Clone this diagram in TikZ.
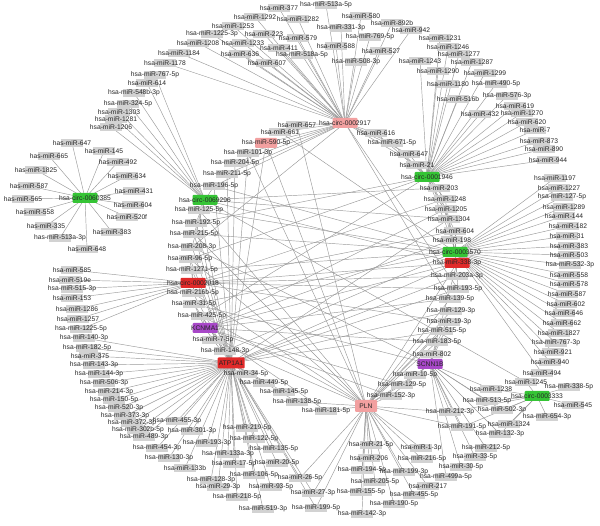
\documentclass[tikz,border=0pt]{standalone}
\usepackage{fontspec}
\setmainfont{Liberation Sans}
\usetikzlibrary{backgrounds}
\definecolor{circgreen}{HTML}{35C435}
\definecolor{circred}{HTML}{E02A2A}
\definecolor{circpink}{HTML}{F2A0A0}
\definecolor{genepurple}{HTML}{A848C8}

\begin{document}
\begin{tikzpicture}[
    x=1pt, y=-1pt,
    txt/.style={font=\fontsize{6.7}{7}\selectfont, text=black!85, inner sep=0pt},
    mir/.style={fill=gray!35, minimum width=22pt, minimum height=8pt, inner sep=0pt,
                label={[txt]center:#1}},
    hub/.style={fill=#1, rounded corners=1pt, minimum width=25pt, minimum height=10pt, inner sep=0pt},
    edge/.style={draw=gray!80, line width=0.45pt}
]
\useasboundingbox (0,0) rectangle (600,526);

% hubs
\node[hub=circpink, label={[txt]center:hsa-circ-0002917}] (c2917) at (345,123) {};
\node[hub=circgreen, label={[txt]center:hsa-circ-0001946}] (c1946) at (427,177) {};
\node[hub=circgreen, label={[txt]center:hsa-circ-0060385}] (c0385) at (85,198) {};
\node[hub=circgreen, label={[txt]center:hsa-circ-0069296}] (c9296) at (205,200) {};
\node[hub=circred, label={[txt]center:hsa-circ-0002018}] (c2018) at (193,283) {};
\node[hub=genepurple, label={[txt]center:KCNMA1}] (kcnma) at (205,328) {};
\node[hub=circred, minimum width=27pt, minimum height=11pt, label={[txt]center:ATP1A1}] (atp) at (231,363) {};
\node[hub=circpink, minimum width=22pt, minimum height=12pt, label={[txt]center:PLN}] (pln) at (366,406) {};
\node[hub=genepurple, label={[txt]center:SCNN1B}] (scn) at (430,364) {};
\node[hub=circgreen, label={[txt]center:hsa-circ-0003333}] (c3333) at (537,396) {};
\node[hub=circgreen, label={[txt]center:hsa-circ-0003570}] (c3570) at (455,252) {};
\node[hub=circred, label={[txt]center:hsa-miR-338-3p}] (m338) at (457,263) {};
\node[hub=circpink, minimum width=22pt, label={[txt]center:hsa-miR-590-5p}] (m590) at (266,143) {};

% upper arc
\node[mir=hsa-miR-1178] (m1178) at (165,63) {};
\node[mir=hsa-miR-1184] (m1184) at (179,53) {};
\node[mir=hsa-miR-1208] (m1208) at (198,43) {};
\node[mir=hsa-miR-1225-3p] (m1225t) at (212,34) {};
\node[mir=hsa-miR-1253] (m1253) at (233,26) {};
\node[mir=hsa-miR-1292] (m1292) at (255,17) {};
\node[mir=hsa-miR-377] (m377) at (279,8) {};
\node[mir=hsa-miR-1282] (m1282) at (298,19) {};
\node[mir=hsa-miR-223] (m223) at (264,34) {};
\node[mir=hsa-miR-1233] (m1233) at (243,43) {};
\node[mir=hsa-miR-411] (m411) at (279,48) {};
\node[mir=hsa-miR-636] (m636) at (240,54) {};
\node[mir=hsa-miR-607] (m607) at (267,63) {};
\node[mir=hsa-miR-579] (m579) at (298,38) {};
\node[mir=hsa-miR-518a-5p] (m518a) at (302,55) {};
\node[mir=hsa-miR-513a-5p] (m513a) at (326,5) {};
\node[mir=hsa-miR-331-3p] (m331) at (341,28) {};
\node[mir=hsa-miR-580] (m580) at (361,16) {};
\node[mir=hsa-miR-892b] (m892b) at (392,23) {};
\node[mir=hsa-miR-769-5p] (m769) at (370,37) {};
\node[mir=hsa-miR-588] (m588) at (336,46) {};
\node[mir=hsa-miR-942] (m942) at (411,30) {};
\node[mir=hsa-miR-527] (m527) at (381,51) {};
\node[mir=hsa-miR-508-3p] (m508) at (356,62) {};
\node[mir=hsa-miR-657] (m657) at (297,125) {};
\node[mir=hsa-miR-661] (m661) at (280,132) {};
\node[mir=hsa-miR-101-3p] (m101) at (248,153) {};
\node[mir=hsa-miR-204-5p] (m204) at (235,163) {};
\node[mir=hsa-miR-211-5p] (m211) at (227,174) {};
\node[mir=hsa-miR-616] (m616) at (376,133) {};
\node[mir=hsa-miR-671-5p] (m671) at (392,143) {};
\node[mir=hsa-miR-647] (m647) at (409,154) {};
\node[mir=hsa-miR-21] (m21) at (417,165) {};

% left arc
\node[mir=hsa-miR-767-5p] (m767f) at (155,75) {};
\node[mir=hsa-miR-614] (m614) at (147,83) {};
\node[mir=hsa-miR-548b-3p] (m548b) at (134,93) {};
\node[mir=hsa-miR-324-5p] (m324) at (128,104) {};
\node[mir=hsa-miR-1303] (m1303) at (119,112) {};
\node[mir=hsa-miR-1281] (m1281) at (116,119) {};
\node[mir=hsa-miR-1206] (m1206) at (111,127) {};

% left star
\node[mir=has-miR-647] (a647) at (72,143) {};
\node[mir=has-miR-145] (a145) at (104,151) {};
\node[mir=has-miR-665] (a665) at (49,156) {};
\node[mir=has-miR-492] (a492) at (118,162) {};
\node[mir=has-miR-1825] (a1825) at (36,170) {};
\node[mir=has-miR-634] (a634) at (127,176) {};
\node[mir=has-miR-587] (a587) at (29,186) {};
\node[mir=has-miR-431] (a431) at (134,191) {};
\node[mir=has-miR-565] (a565) at (23,199) {};
\node[mir=has-miR-604] (a604) at (133,205) {};
\node[mir=has-miR-558] (a558) at (35,212) {};
\node[mir=has-miR-520f] (a520f) at (127,217) {};
\node[mir=has-miR-335] (a335) at (46,226) {};
\node[mir=has-miR-383] (a383) at (112,232) {};
\node[mir=has-miR-513a-3p] (a513a) at (60,238) {};
\node[mir=has-miR-648] (a648) at (87,249) {};

% left column
\node[mir=hsa-miR-196-5p] (m196) at (214,186) {};
\node[mir=hsa-miR-125-5p] (m125) at (199,210) {};
\node[mir=hsa-miR-192-5p] (m192) at (196,223) {};
\node[mir=hsa-miR-215-5p] (m215) at (194,234) {};
\node[mir=hsa-miR-208-3p] (m208) at (192,247) {};
\node[mir=hsa-miR-96-5p] (m96) at (190,259) {};
\node[mir=hsa-miR-1271-5p] (m1271) at (192,270) {};
\node[mir=hsa-miR-216b-5p] (m216b) at (193,293) {};
\node[mir=hsa-miR-31-5p] (m31f) at (194,304) {};
\node[mir=hsa-miR-425-5p] (m425) at (202,316) {};
\node[mir=hsa-miR-7-5p] (m7f) at (213,340) {};
\node[mir=hsa-miR-148-3p] (m148) at (225,351) {};

% left fan of the red circ
\node[mir=hsa-miR-585] (m585) at (72,270) {};
\node[mir=hsa-miR-519e] (m519e) at (70,280) {};
\node[mir=hsa-miR-515-3p] (m515t) at (72,289) {};
\node[mir=hsa-miR-153] (m153) at (72,298) {};
\node[mir=hsa-miR-1286] (m1286) at (77,309) {};
\node[mir=hsa-miR-1257] (m1257) at (78,319) {};
\node[mir=hsa-miR-1225-5p] (m1225f) at (81,329) {};
\node[mir=hsa-miR-140-3p] (m140) at (84,338) {};
\node[mir=hsa-miR-182-5p] (m182f) at (87,348) {};

% ATP1A1 fan
\node[mir=hsa-miR-375] (m375) at (90,356) {};
\node[mir=hsa-miR-143-3p] (m143) at (94,365) {};
\node[mir=hsa-miR-144-3p] (m144t) at (99,374) {};
\node[mir=hsa-miR-506-3p] (m506) at (104,383) {};
\node[mir=hsa-miR-214-3p] (m214) at (109,392) {};
\node[mir=hsa-miR-150-5p] (m150) at (114,400) {};
\node[mir=hsa-miR-520-3p] (m520) at (119,408) {};
\node[mir=hsa-miR-373-3p] (m373) at (125,416) {};
\node[mir=hsa-miR-372-3p] (m372) at (132,423) {};
\node[mir=hsa-miR-302b-5p] (m302) at (138,430) {};
\node[mir=hsa-miR-489-3p] (m489) at (144,437) {};
\node[mir=hsa-miR-454-3p] (m454) at (157,448) {};
\node[mir=hsa-miR-130-3p] (m130) at (169,458) {};
\node[mir=hsa-miR-455-3p] (m455t) at (177,421) {};
\node[mir=hsa-miR-301-3p] (m301) at (192,431) {};
\node[mir=hsa-miR-133b] (m133b) at (185,468) {};
\node[mir=hsa-miR-193-3p] (m193t) at (207,443) {};
\node[mir=hsa-miR-128-3p] (m128) at (211,480) {};
\node[mir=hsa-miR-29-3p] (m29) at (218,487) {};
\node[mir=hsa-miR-218-5p] (m218) at (237,497) {};
\node[mir=hsa-miR-219-5p] (m219) at (247,428) {};
\node[mir=hsa-miR-122-5p] (m122) at (254,439) {};
\node[mir=hsa-miR-133a-3p] (m133a) at (228,454) {};
\node[mir=hsa-miR-17-5p] (m17) at (234,464) {};
\node[mir=hsa-miR-135-5p] (m135) at (274,449) {};
\node[mir=hsa-miR-20-5p] (m20) at (277,463) {};
\node[mir=hsa-miR-106-5p] (m106) at (254,475) {};
\node[mir=hsa-miR-93-5p] (m93) at (271,487) {};
\node[mir=hsa-miR-519-3p] (m519t) at (263,509) {};
\node[mir=hsa-miR-26-5p] (m26) at (300,478) {};
\node[mir=hsa-miR-27-3p] (m27) at (313,493) {};
\node[mir=hsa-miR-199-5p] (m199f) at (316,508) {};
\node[mir=hsa-miR-34-5p] (m34) at (246,374) {};
\node[mir=hsa-miR-449-5p] (m449) at (264,383) {};
\node[mir=hsa-miR-145-5p] (m145) at (284,392) {};
\node[mir=hsa-miR-138-5p] (m138) at (297,402) {};
\node[mir=hsa-miR-181-5p] (m181) at (326,411) {};

% PLN fan
\node[mir=hsa-miR-21-5p] (m21f) at (371,445) {};
\node[mir=hsa-miR-206] (m206) at (369,458) {};
\node[mir=hsa-miR-194-5p] (m194) at (362,470) {};
\node[mir=hsa-miR-205-5p] (m205) at (375,482) {};
\node[mir=hsa-miR-155-5p] (m155) at (361,492) {};
\node[mir=hsa-miR-142-3p] (m142) at (362,514) {};
\node[mir=hsa-miR-1-3p] (m1t) at (421,448) {};
\node[mir=hsa-miR-216-5p] (m216) at (422,459) {};
\node[mir=hsa-miR-199-3p] (m199t) at (404,472) {};
\node[mir=hsa-miR-217] (m217) at (428,486) {};
\node[mir=hsa-miR-455-5p] (m455f) at (414,495) {};
\node[mir=hsa-miR-190-5p] (m190) at (394,504) {};
\node[mir=hsa-miR-152-3p] (m152) at (391,396) {};
\node[mir=hsa-miR-129-5p] (m129f) at (402,385) {};
\node[mir=hsa-miR-10-5p] (m10) at (415,375) {};
\node[mir=hsa-miR-802] (m802) at (432,354) {};

% circ-0003333 fan
\node[mir=hsa-miR-1245] (m1245) at (526,382) {};
\node[mir=hsa-miR-1238] (m1238) at (491,389) {};
\node[mir=hsa-miR-338-5p] (m338f) at (569,387) {};
\node[mir=hsa-miR-513-5p] (m513) at (487,401) {};
\node[mir=hsa-miR-545] (m545) at (573,405) {};
\node[mir=hsa-miR-502-3p] (m502) at (502,410) {};
\node[mir=hsa-miR-654-3p] (m654) at (547,417) {};
\node[mir=hsa-miR-1324] (m1324) at (509,424) {};
\node[mir=hsa-miR-132-3p] (m132) at (500,434) {};
\node[mir=hsa-miR-212-3p] (m212t) at (450,412) {};
\node[mir=hsa-miR-191-5p] (m191) at (462,427) {};
\node[mir=hsa-miR-212-5p] (m212f) at (486,448) {};
\node[mir=hsa-miR-33-5p] (m33) at (475,457) {};
\node[mir=hsa-miR-30-5p] (m30) at (461,467) {};
\node[mir=hsa-miR-499a-5p] (m499) at (446,477) {};

% right column
\node[mir=hsa-miR-1197] (m1197) at (555,178) {};
\node[mir=hsa-miR-1227] (m1227) at (559,188) {};
\node[mir=hsa-miR-127-5p] (m127) at (562,197) {};
\node[mir=hsa-miR-1289] (m1289) at (564,207) {};
\node[mir=hsa-miR-144] (m144) at (564,216) {};
\node[mir=hsa-miR-182] (m182) at (568,226) {};
\node[mir=hsa-miR-31] (m31) at (567,236) {};
\node[mir=hsa-miR-383] (m383) at (569,246) {};
\node[mir=hsa-miR-503] (m503) at (569,255) {};
\node[mir=hsa-miR-532-3p] (m532) at (570,265) {};
\node[mir=hsa-miR-558] (m558) at (569,275) {};
\node[mir=hsa-miR-578] (m578) at (569,284) {};
\node[mir=hsa-miR-587] (m587) at (567,294) {};
\node[mir=hsa-miR-602] (m602) at (566,304) {};
\node[mir=hsa-miR-646] (m646) at (564,313) {};
\node[mir=hsa-miR-662] (m662) at (562,323) {};
\node[mir=hsa-miR-1827] (m1827) at (559,333) {};
\node[mir=hsa-miR-767-3p] (m767t) at (556,343) {};
\node[mir=hsa-miR-921] (m921) at (553,352) {};
\node[mir=hsa-miR-940] (m940) at (550,362) {};
\node[mir=hsa-miR-494] (m494) at (542,373) {};

% between circ-0001946 and PLN
\node[mir=hsa-miR-203] (m203) at (439,188) {};
\node[mir=hsa-miR-1248] (m1248) at (445,199) {};
\node[mir=hsa-miR-1205] (m1205) at (446,209) {};
\node[mir=hsa-miR-1304] (m1304) at (449,219) {};
\node[mir=hsa-miR-604] (m604) at (455,231) {};
\node[mir=hsa-miR-198] (m198) at (452,240) {};
\node[mir=hsa-miR-203a-3p] (m203a) at (457,276) {};
\node[mir=hsa-miR-193-5p] (m193f) at (458,289) {};
\node[mir=hsa-miR-139-5p] (m139) at (450,299) {};
\node[mir=hsa-miR-129-3p] (m129t) at (451,311) {};
\node[mir=hsa-miR-19-3p] (m19) at (449,322) {};
\node[mir=hsa-miR-515-5p] (m515) at (442,331) {};
\node[mir=hsa-miR-183-5p] (m183) at (437,342) {};

% upper right fan
\node[mir=hsa-miR-1243] (m1243) at (420,61) {};
\node[mir=hsa-miR-1231] (m1231) at (440,38) {};
\node[mir=hsa-miR-1246] (m1246) at (448,47) {};
\node[mir=hsa-miR-1277] (m1277) at (459,54) {};
\node[mir=hsa-miR-1287] (m1287) at (472,62) {};
\node[mir=hsa-miR-1290] (m1290) at (438,71) {};
\node[mir=hsa-miR-1299] (m1299) at (485,73) {};
\node[mir=hsa-miR-1180] (m1180) at (448,84) {};
\node[mir=hsa-miR-490-5p] (m490) at (496,84) {};
\node[mir=hsa-miR-516b] (m516b) at (458,99) {};
\node[mir=hsa-miR-576-3p] (m576) at (507,96) {};
\node[mir=hsa-miR-619] (m619) at (515,106) {};
\node[mir=hsa-miR-432] (m432) at (480,114) {};
\node[mir=hsa-miR-1270] (m1270) at (522,113) {};
\node[mir=hsa-miR-620] (m620) at (527,122) {};
\node[mir=hsa-miR-7] (m7) at (535,130) {};
\node[mir=hsa-miR-873] (m873) at (539,141) {};
\node[mir=hsa-miR-890] (m890) at (544,149) {};
\node[mir=hsa-miR-944] (m944) at (548,160) {};

% edges
\begin{scope}[on background layer]
\foreach \m in {m1178,m1184,m1208,m1225t,m1253,m1292,m377,m1282,m223,m1233,m411,m636,m607,m579,m518a,m513a,m331,m580,m892b,m769,m588,m942,m527,m508,m657,m661,m590,m101,m204,m211,m616,m671,m647,m21,m196,m208,m193f,m139}
    \draw[edge] (c2917.center) -- (\m.center);
\foreach \m in {m1243,m1231,m1246,m1277,m1287,m1290,m1299,m1180,m490,m516b,m576,m619,m432,m1270,m620,m7,m873,m890,m944,m616,m671,m647,m21,m203,m1248,m1205,m1304,m604,m198,m192,m96,m425}
    \draw[edge] (c1946.center) -- (\m.center);
\foreach \m in {m1197,m1227,m127,m1289,m144,m182,m31,m383,m503,m532,m558,m578,m587,m602,m646,m662,m1827,m767t,m921,m940,m494,m203,m1248,m1205,m1304,m604,m198,m203a,m193f,m196,m215,m1271,m31f,m148,m125,m661}
    \draw[edge] (c3570.center) -- (\m.center);
\foreach \m in {c9296,c2018,kcnma,atp,pln,scn}
    \draw[edge] (m338.center) -- (\m.center);
\foreach \m in {m21f,m206,m194,m205,m155,m142,m1t,m216,m199t,m217,m455f,m190,m181,m152,m129f,m10,m138,m139,m129t,m19,m515,m183,m7f,m125,m215,m96,m425,m216b,m590,m657,m101,m26,m27,m199f,m212t,m191}
    \draw[edge] (pln.center) -- (\m.center);
\foreach \m in {m802,m10,m129f,m183,m515,m19,m1238,m513,m502,m212t,m191,m132,m212f,m33,m30,m499,m208,m31f,m152}
    \draw[edge] (scn.center) -- (\m.center);
\foreach \m in {m1245,m1238,m338f,m513,m545,m502,m654,m1324,m132,m212t,m191}
    \draw[edge] (c3333.center) -- (\m.center);
\foreach \m in {m148,m34,m449,m145,m138,m375,m143,m144t,m506,m214,m150,m520,m373,m372,m302,m489,m454,m130,m455t,m301,m133b,m193t,m128,m29,m218,m219,m122,m133a,m17,m135,m20,m106,m93,m519t,m26,m27,m199f,m140,m182f,m590,m101,m204,m211,m196,m125,m192,m215,m208,m96,m1271,m216b,m31f,m425,m7f,m1304,m203a,m193f,m129t,m515}
    \draw[edge] (atp.center) -- (\m.center);
\foreach \m in {m7f,m425,m31f,m1205,m198,m139,m183,m181,m152,m129f}
    \draw[edge] (kcnma.center) -- (\m.center);
\foreach \m in {m585,m519e,m515t,m153,m1286,m1257,m1225f,m1271,m216b,m96,m1248,m604,m19,m193f,m203a}
    \draw[edge] (c2018.center) -- (\m.center);
\foreach \m in {m767f,m614,m548b,m324,m1303,m1281,m1206,m196,m125,m192,m215,m208,m1245,m203,m1304}
    \draw[edge] (c9296.center) -- (\m.center);
\foreach \m in {a647,a145,a665,a492,a1825,a634,a587,a431,a565,a604,a558,a520f,a335,a383,a513a,a648}
    \draw[edge] (c0385.center) -- (\m.center);
\end{scope}
\end{tikzpicture}
\end{document}
